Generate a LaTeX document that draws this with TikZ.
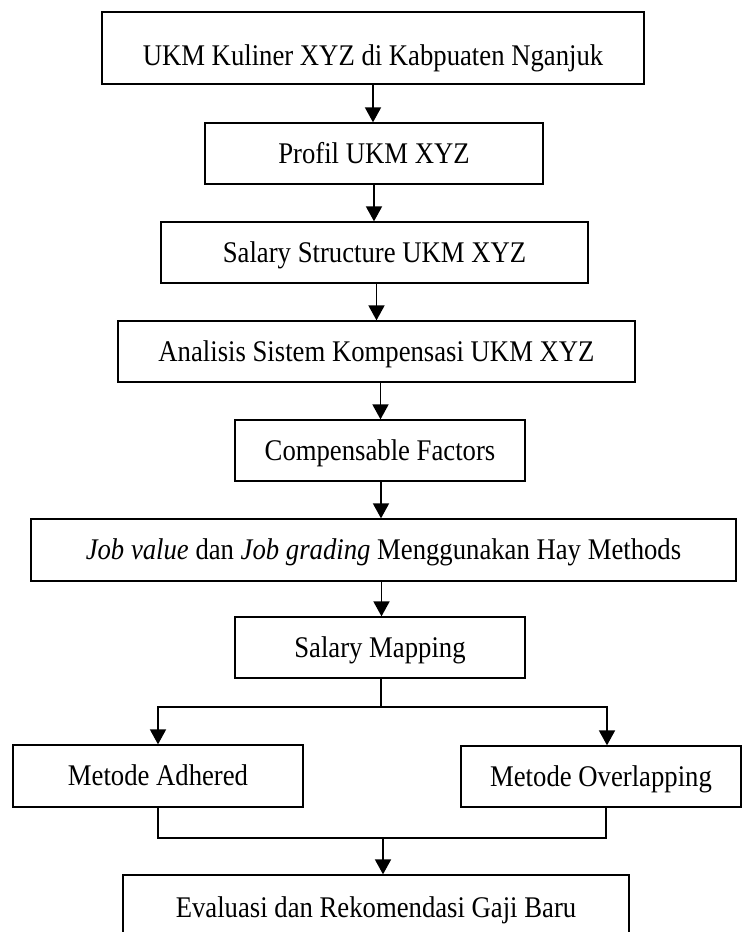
\documentclass[tikz,border=0pt]{standalone}
\usepackage{fontspec}
\setmainfont{Liberation Serif}[FakeStretch=0.89]
\usetikzlibrary{arrows.meta}

\tikzset{
  box/.style={draw=black, line width=1.3pt, inner sep=0pt, minimum height=61pt,
    text height=27pt, text depth=7.2pt, font=\fontsize{30}{36}\selectfont},
  flow/.style={line width=1.8pt, -{Triangle[width=16pt,length=15pt]}},
  link/.style={line width=1.8pt}
}

\begin{document}
\begin{tikzpicture}[x=1pt,y=1pt]
\useasboundingbox (0,0) rectangle (742,-932);
\clip (0,0) rectangle (742,-932);

% main column
\node[box, minimum width=542pt, minimum height=72pt, text height=42pt, text depth=7.8pt] (ukm) at (373,-48) {UKM Kuliner XYZ di Kabpuaten Nganjuk};
\node[box, minimum width=338pt] (profil) at (374,-153.5) {Profil UKM XYZ};
\node[box, minimum width=427pt] (struktur) at (374.5,-252.5) {Salary Structure UKM XYZ};
\node[box, minimum width=517pt] (analisis) at (376.5,-351.5) {Analisis Sistem Kompensasi UKM XYZ};
\node[box, minimum width=290pt] (faktor) at (380,-450.5) {Compensable Factors};
\node[box, minimum width=705pt, minimum height=62pt] (hay) at (383.5,-550) {\textit{Job value} dan \textit{Job grading} Menggunakan Hay Methods};
\node[box, minimum width=290pt] (mapping) at (380,-647.5) {Salary Mapping};

% two methods
\node[box, minimum width=290pt, minimum height=62pt] (adhered) at (158,-776) {Metode Adhered};
\node[box, minimum width=280pt] (overlap) at (601,-776.5) {Metode Overlapping};

% result (cut by page edge)
\node[box, minimum width=506pt, minimum height=66pt] (evaluasi) at (376,-908) {Evaluasi dan Rekomendasi Gaji Baru};

\draw[flow] (ukm.south) -- (ukm.south |- profil.north);
\draw[flow] (profil.south) -- (profil.south |- struktur.north);
\draw[flow] ([xshift=2pt]struktur.south) -- ([xshift=2pt]struktur.south |- analisis.north);
\draw[flow] ([xshift=4pt]analisis.south) -- ([xshift=4pt]analisis.south |- faktor.north);
\draw[flow] ([xshift=1pt]faktor.south) -- ([xshift=1pt]faktor.south |- hay.north);
\draw[flow] ([xshift=-2pt]hay.south) -- ([xshift=-2pt]hay.south |- mapping.north);

% split
\coordinate (split) at ([xshift=1pt]mapping.south |- 0,-707);
\draw[link] ([xshift=1pt]mapping.south) -- (split);
\draw[flow] (split) -| (adhered.north);
\draw[flow] (split) -| ([xshift=6pt]overlap.north);

% merge
\coordinate (merge) at (383,-838);
\draw[link] (adhered.south) |- (merge) -| ([xshift=5pt]overlap.south);
\draw[flow] (merge) -- (merge |- evaluasi.north);

\end{tikzpicture}
\end{document}
